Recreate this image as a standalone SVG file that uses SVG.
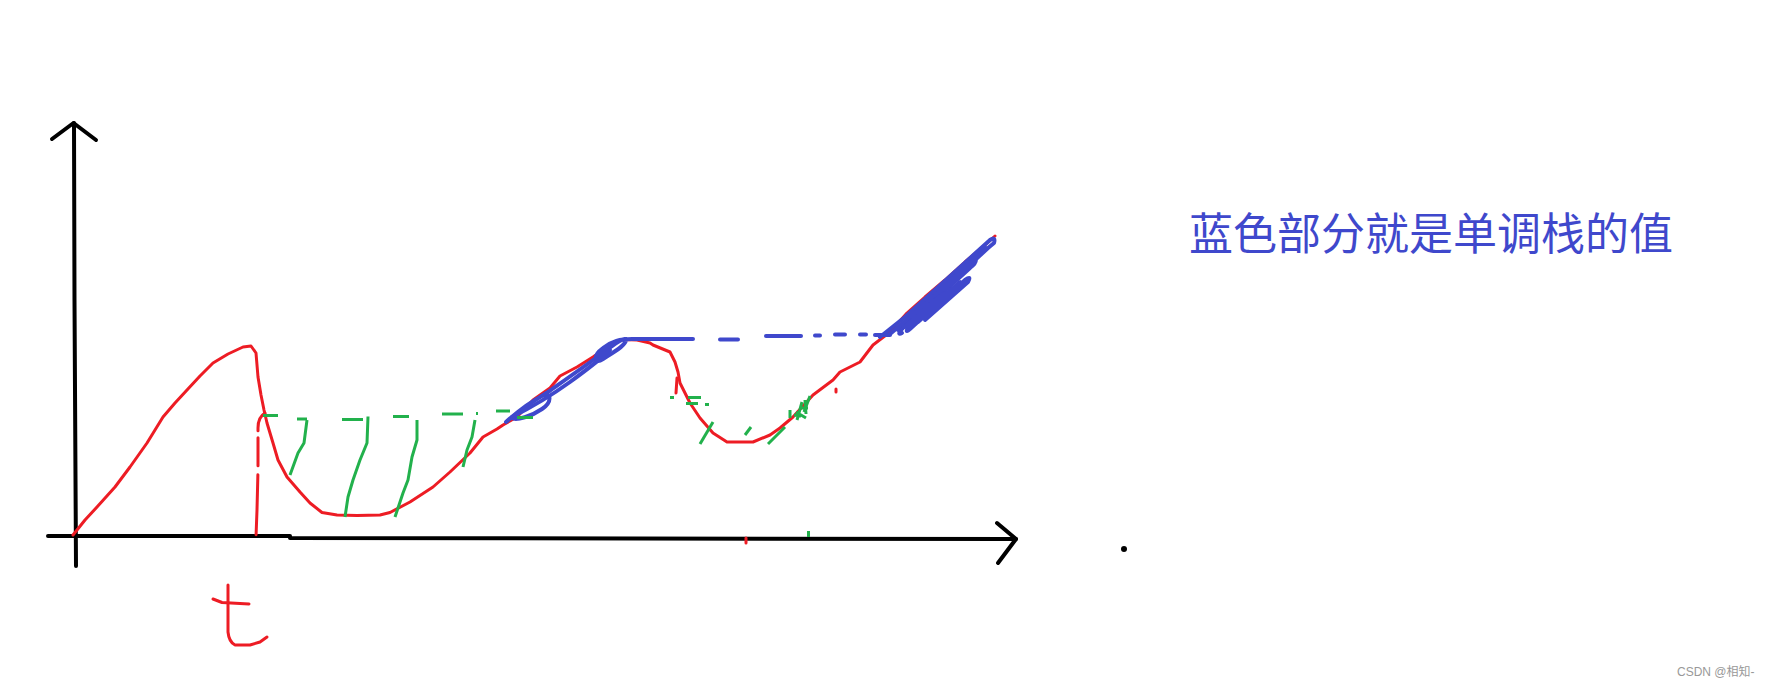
<svg xmlns="http://www.w3.org/2000/svg" width="1769" height="687" viewBox="0 0 1769 687">
<style>
.ax{fill:none;stroke:#000;stroke-width:4;stroke-linecap:round;stroke-linejoin:round}
.r{fill:none;stroke:#ed1c24;stroke-width:3;stroke-linecap:round;stroke-linejoin:round}
.g{fill:none;stroke:#22b14c;stroke-width:3;stroke-linecap:butt;stroke-linejoin:round}
.b{fill:none;stroke:#3f48cc;stroke-width:4;stroke-linecap:round;stroke-linejoin:round}
.lbl{font-family:"Noto Sans CJK SC","Noto Sans",sans-serif;fill:#3f48cc;font-size:44px}
.wm{font-family:"Liberation Sans","Noto Sans CJK SC",sans-serif;fill:#999;font-size:12px}
</style>
<rect width="1769" height="687" fill="#fff"/>
<g id="axes">
<path class="ax" d="M74,123 L74.5,300 L76,566"/>
<path class="ax" d="M52,139 L73.5,123 L96,140"/>
<path class="ax" d="M48,536 L290,536 M290,538 L1016,539"/>
<path class="ax" d="M997,523 L1016,539 L998,563"/>
<circle cx="1124" cy="549" r="3" fill="#000"/>
</g>
<g id="curve">
<path class="r" d="M73,535 L85,520 L97,507 L115,487 L130,467 L147,443 L163,417 L175,403 L187,390 L200,376 L213,363 L228,354 L243,347 L251,346 L256,353 L258,377 L261,395 L264,410 L267,423 L273,443 L278,460 L287,477 L300,492 L310,503 L322,512.5 L337,515 L357,515.5 L380,515 L390,512.5 L410,502 L433,487 L450,472 L470,453 L483,437 L497,429 L503,425 L517,417 L533,400 L550,388 L560,376 L577,367 L593,357 L613,343 L623,339.5 L637,340 L650,343 L653,345 L670,352 L675,362 L678,372 L680,383 L690,403 L700,418 L713,433 L727,442 L753,442 L770,435 L780,428 L793,417 L813,395 L833,380 L840,372 L860,362 L873,345 L890,332 L907,313 L925,297 L945,280 L965,262 L985,245 L995,236"/>
<path class="r" d="M265,413 Q258,417 258,428 L258,470 L257,510 L256,537" stroke-dasharray="20 7 28 9 60"/>
<path class="r" d="M677,378 L676,393"/>
<path class="r" d="M836,389 L836,392"/>
<path class="r" d="M746,538 L746,543"/>
</g>
<g id="label-t">
<path class="r" d="M213,599 L222,602.5 L249,604"/>
<path class="r" d="M228,585 L228,632 Q229,642 235,645 L250,645 L260,642 L267,637"/>
</g>
<g id="stack">
<path class="b" d="M506,422 C515,414 530,402 542,396 C552,392 552,402 542,409 C532,416 516,421 512,418 C520,410 535,400 548,392 C565,380 585,366 600,355 C612,346 621,338 626,339 C627,345 614,352 603,359 C594,365 592,356 603,348 C612,341 620,339 632,339 L693,339"/>
<path class="b" d="M512,417 C530,408 552,395 570,382 C585,371 600,360 610,350"/>
<path class="b" d="M720,339.5 L738,339.5"/>
<path class="b" d="M766,336 L801,336"/>
<path class="b" d="M815,335.5 L820,335.5"/>
<path class="b" d="M835,334.5 L845,334.5"/>
<path class="b" d="M860,334.5 L866,334.5"/>
<path class="b" d="M875,335 L890,335"/>
<path class="b" d="M880,337 L905,317 L990,240 Q996,236 994,243 L988,248 L905,325 Q896,333 900,327 L975,258 Q978,262 970,268 L915,318 Q908,324 912,316 L985,247"/>
<path class="b" d="M890,334 L930,300 L970,262 M898,330 L940,293 L960,276"/>
<path class="b" d="M902,333 Q896,336 903,328 L940,296 Q948,290 945,297 L910,329 Q904,334 909,326 L960,282 M918,322 L965,280 Q972,275 968,282 L925,320"/>
</g>
<g id="guides">
<path class="g" d="M263,415.5 L278,415.5 M297,419 L307,419 M342,419.5 L363,419.5 M393,416.5 L409,416.5 M442,414 L463,414 M476,413.5 L478,413.5 M496,411 L510,411 M517,417.5 L533,417.5"/>
<path class="g" d="M307,420 L304,443 L298,453 L290,475"/>
<path class="g" d="M368,416.5 L367,443 L360,460 L353,480 L348,497 L345,517"/>
<path class="g" d="M417,420 L417,440 L412,457 L408,480 L403,493 L395,517"/>
<path class="g" d="M475,420 L472,437 L467,450 L463,467"/>
<path class="g" d="M670,397.5 L674,397.5 M688,397.5 L701,397.5 M686,403.5 L698,403.5 M705,404.5 L709,404.5"/>
<path class="g" d="M700,444 L713,422"/>
<path class="g" d="M745,435 L751,427"/>
<path class="g" d="M768,444 L785,427"/>
<path class="g" d="M790,418 L790,410 M797,420 L802,402 M804,412 L810,396 M800,408 L808,408 M796,412 L806,418 M805,400 L806,414 M794,415 L801,416" stroke-width="3.5"/>
<path class="g" d="M808.5,531 L808.5,537" stroke-width="1.5"/>
</g>
<g id="caption">
<text class="lbl" x="1189" y="250">蓝色部分就是单调栈的值</text>
</g>
<g id="watermark">
<text class="wm" x="1677" y="676">CSDN @相知-</text>
</g>
</svg>
